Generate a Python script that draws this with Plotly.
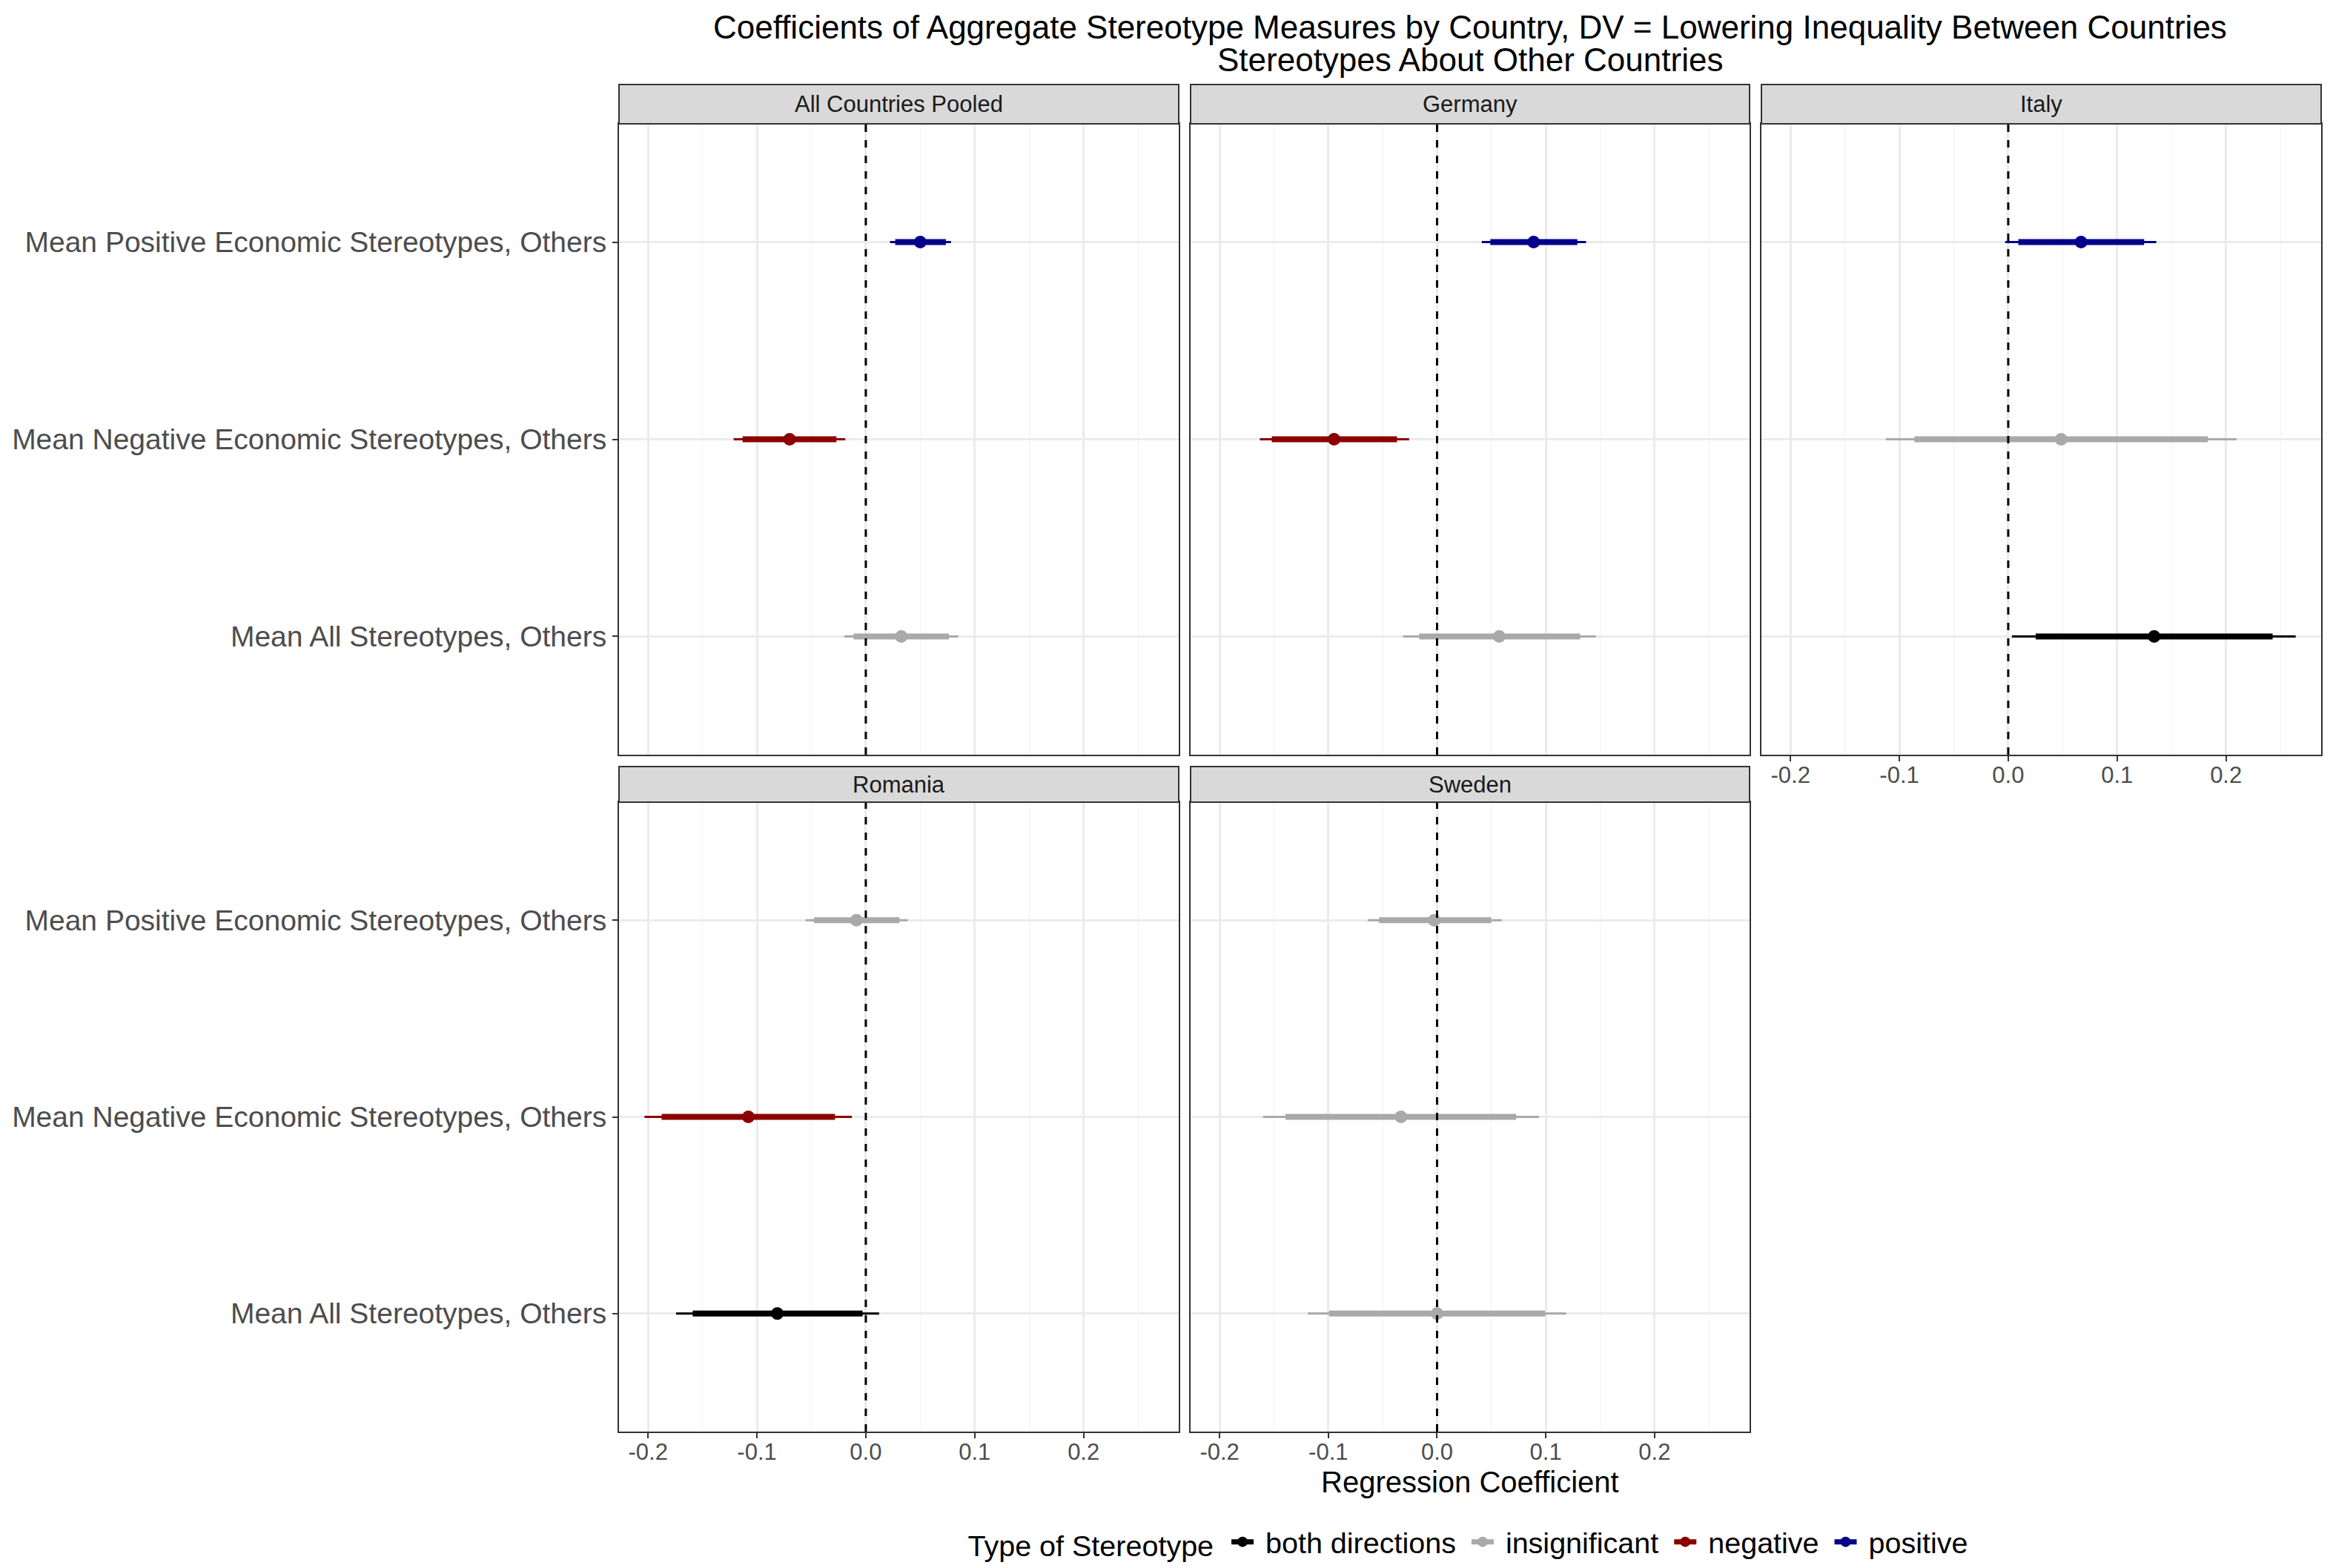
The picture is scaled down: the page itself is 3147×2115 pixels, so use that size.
#!/usr/bin/env python3
# -*- coding: utf-8 -*-

import plotly.graph_objects as go

# -----------------------------
# Data
# order of rows inside each panel : All, Negative, Positive
# -----------------------------

panels = [ 'All Countries Pooled', 'Germany', 'Italy', 'Romania', 'Sweden' ]

measures = [
  'Mean All Stereotypes, Others',
  'Mean Negative Economic Stereotypes, Others',
  'Mean Positive Economic Stereotypes, Others',
]

estimate = [
  [  0.0326, -0.0700,  0.0500 ],
  [  0.0572, -0.0947,  0.0888 ],
  [  0.1340,  0.0486,  0.0669 ],
  [ -0.0813, -0.1079, -0.0086 ],
  [  0.0000, -0.0332, -0.0026 ],
]

inner_lo = [
  [ -0.0112, -0.1132,  0.0270 ],
  [ -0.0164, -0.1520,  0.0490 ],
  [  0.0252, -0.0862,  0.0093 ],
  [ -0.1590, -0.1875, -0.0477 ],
  [ -0.0993, -0.1395, -0.0533 ],
]

inner_hi = [
  [  0.0763, -0.0270,  0.0735 ],
  [  0.1316, -0.0368,  0.1290 ],
  [  0.2428,  0.1834,  0.1248 ],
  [ -0.0030, -0.0283,  0.0309 ],
  [  0.0993,  0.0727,  0.0497 ],
]

outer_lo = [
  [ -0.0197, -0.1214,  0.0222 ],
  [ -0.0312, -0.1630,  0.0411 ],
  [  0.0034, -0.1124, -0.0028 ],
  [ -0.1743, -0.2033, -0.0553 ],
  [ -0.1188, -0.1600, -0.0638 ],
]

outer_hi = [
  [  0.0849, -0.0188,  0.0782 ],
  [  0.1460, -0.0257,  0.1370 ],
  [  0.2640,  0.2097,  0.1360 ],
  [  0.0122, -0.0128,  0.0385 ],
  [  0.1188,  0.0938,  0.0595 ],
]

stype = [
  [ 'insignificant',   'negative',      'positive'      ],
  [ 'insignificant',   'negative',      'positive'      ],
  [ 'both directions', 'insignificant', 'positive'      ],
  [ 'both directions', 'negative',      'insignificant' ],
  [ 'insignificant',   'insignificant', 'insignificant' ],
]

type_names = [ 'both directions', 'insignificant', 'negative', 'positive' ]
type_colors = [ '#000000', '#A9A9A9', '#8B0000', '#00008B' ]

x_ticks = [ -0.2, -0.1, 0.0, 0.1, 0.2 ]
x_tick_labels = [ '-0.2', '-0.1', '0.0', '0.1', '0.2' ]

# -----------------------------
# Layout geometry
# positions are screenshot pixels, page body has an 8px margin
# -----------------------------

W, H = 3147, 2115
OFF = 8
FW, FH = W - 2 * OFF, H - 2 * OFF
FONT = 'Liberation Sans, Arial, sans-serif'

col_x = [ ( 835, 1590 ), ( 1606, 2360 ), ( 2376, 3131 ) ]
row_y = [ ( 167, 1018 ), ( 1082, 1931 ) ]       # panel top / bottom
strip_y = [ ( 114, 167 ), ( 1034, 1082 ) ]
pos = [ ( 0, 0 ), ( 0, 1 ), ( 0, 2 ), ( 1, 0 ), ( 1, 1 ) ]

def px_x( v ) :
  return ( v - OFF ) / FW

def px_y( v ) :
  return 1 - ( v - OFF ) / FH

color_of = dict( zip( type_names, type_colors ) )

# shared x range : data range + 5% like ggplot
lo = min( min( r ) for r in outer_lo )
hi = max( max( r ) for r in outer_hi )
pad = ( hi - lo ) * 0.05
x_range = [ lo - pad, hi + pad ]

fig = go.Figure( )
layout = { }
shapes = [ ]
annotations = [ ]

for i, name in enumerate( panels ) :
  r, c = pos[ i ]
  sfx = '' if i == 0 else str( i + 1 )
  xa, ya = 'x' + sfx, 'y' + sfx

  for j, m in enumerate( measures ) :
    col = color_of[ stype[ i ][ j ] ]
    fig.add_trace( go.Scatter(
      x = [ outer_lo[ i ][ j ], outer_hi[ i ][ j ] ], y = [ m, m ],
      mode = 'lines', line = dict( color = col, width = 3 ),
      xaxis = xa, yaxis = ya, showlegend = False, hoverinfo = 'skip' ) )
    fig.add_trace( go.Scatter(
      x = [ inner_lo[ i ][ j ], inner_hi[ i ][ j ] ], y = [ m, m ],
      mode = 'lines', line = dict( color = col, width = 8 ),
      xaxis = xa, yaxis = ya, showlegend = False, hoverinfo = 'skip' ) )
    fig.add_trace( go.Scatter(
      x = [ estimate[ i ][ j ] ], y = [ m ],
      mode = 'markers', marker = dict( color = col, size = 17 ),
      xaxis = xa, yaxis = ya, showlegend = False ) )

  show_x = ( r == 1 ) or ( i == 2 )
  show_y = ( c == 0 )

  layout[ 'xaxis' + sfx ] = dict(
    domain = [ px_x( col_x[ c ][ 0 ] ), px_x( col_x[ c ][ 1 ] ) ],
    anchor = ya, range = x_range,
    tickvals = x_ticks, ticktext = x_tick_labels,
    showticklabels = show_x, ticks = 'outside' if show_x else '',
    ticklen = 7, tickwidth = 2, tickcolor = '#333333', ticklabelstandoff = -8,
    tickfont = dict( size = 31, color = '#4D4D4D', family = FONT ),
    showgrid = True, gridcolor = '#EBEBEB', gridwidth = 2.5,
    minor = dict( dtick = 0.05, tick0 = 0, showgrid = True, gridcolor = '#F2F2F2', gridwidth = 1.3 ),
    showline = True, mirror = True, linecolor = '#333333', linewidth = 2,
    zeroline = False, fixedrange = True,
  )
  layout[ 'yaxis' + sfx ] = dict(
    domain = [ px_y( row_y[ r ][ 1 ] ), px_y( row_y[ r ][ 0 ] ) ],
    anchor = xa, type = 'category',
    categoryorder = 'array', categoryarray = measures,
    range = [ -0.6, 2.6 ],
    showticklabels = show_y, ticks = 'outside' if show_y else '',
    ticklen = 7, tickwidth = 2, tickcolor = '#333333',
    tickfont = dict( size = 39, color = '#4D4D4D', family = FONT ),
    showgrid = True, gridcolor = '#EBEBEB', gridwidth = 2.5,
    showline = True, mirror = True, linecolor = '#333333', linewidth = 2,
    zeroline = False, fixedrange = True,
  )

  # dashed zero line
  shapes.append( dict(
    type = 'line', xref = xa, yref = ya + ' domain',
    x0 = 0, x1 = 0, y0 = 0, y1 = 1, layer = 'above',
    line = dict( color = 'black', width = 3, dash = '10px,11px' ) ) )

  # facet strip
  shapes.append( dict(
    type = 'rect', xref = 'paper', yref = 'paper',
    x0 = px_x( col_x[ c ][ 0 ] ), x1 = px_x( col_x[ c ][ 1 ] ),
    y0 = px_y( strip_y[ r ][ 1 ] ), y1 = px_y( strip_y[ r ][ 0 ] ),
    fillcolor = '#D9D9D9', line = dict( color = '#333333', width = 2 ) ) )
  annotations.append( dict(
    text = name, xref = 'paper', yref = 'paper',
    x = px_x( ( col_x[ c ][ 0 ] + col_x[ c ][ 1 ] ) / 2 ),
    y = px_y( ( strip_y[ r ][ 0 ] + strip_y[ r ][ 1 ] ) / 2 ),
    xanchor = 'center', yanchor = 'middle', showarrow = False,
    font = dict( size = 31, color = '#1A1A1A', family = FONT ) ) )

# legend-only traces ( nbsp padding spreads the items like ggplot )
NB = '\u00a0'
for n, col in zip( type_names, type_colors ) :
  fig.add_trace( go.Scatter(
    x = [ None ], y = [ None ], name = NB + n + NB, mode = 'lines+markers',
    line = dict( color = col, width = 7 ), marker = dict( color = col, size = 14 ),
    showlegend = True ) )

mid_x = px_x( ( col_x[ 0 ][ 0 ] + col_x[ 2 ][ 1 ] ) / 2 )

# title ( two lines ) + x axis title
annotations += [
  dict( text = 'Coefficients of Aggregate Stereotype Measures by Country, DV = Lowering Inequality Between Countries',
        x = mid_x, y = px_y( 36 ), xref = 'paper', yref = 'paper', showarrow = False,
        xanchor = 'center', yanchor = 'middle', font = dict( size = 44, color = 'black', family = FONT ) ),
  dict( text = 'Stereotypes About Other Countries',
        x = mid_x, y = px_y( 80 ), xref = 'paper', yref = 'paper', showarrow = False,
        xanchor = 'center', yanchor = 'middle', font = dict( size = 44, color = 'black', family = FONT ) ),
  dict( text = 'Regression Coefficient',
        x = mid_x, y = px_y( 1999 ), xref = 'paper', yref = 'paper', showarrow = False,
        xanchor = 'center', yanchor = 'middle', font = dict( size = 40, color = 'black', family = FONT ) ),
]

fig.update_layout(
  width = FW, height = FH,
  margin = dict( l = 0, r = 0, t = 0, b = 0, autoexpand = False ),
  paper_bgcolor = 'white', plot_bgcolor = 'white',
  font = dict( family = FONT ),
  shapes = shapes, annotations = annotations,
  showlegend = True,
  legend = dict(
    orientation = 'h', x = px_x( 1987 ), xanchor = 'center',
    y = px_y( 2080 ), yanchor = 'middle',
    title = dict( text = 'Type of Stereotype' + NB, side = 'left', font = dict( size = 39.5, color = 'black' ) ),
    font = dict( size = 39.5, color = 'black', family = FONT ),
    itemwidth = 30, bgcolor = 'rgba(0,0,0,0)',
  ),
  **layout
)

fig.write_html( 'out.html' )
